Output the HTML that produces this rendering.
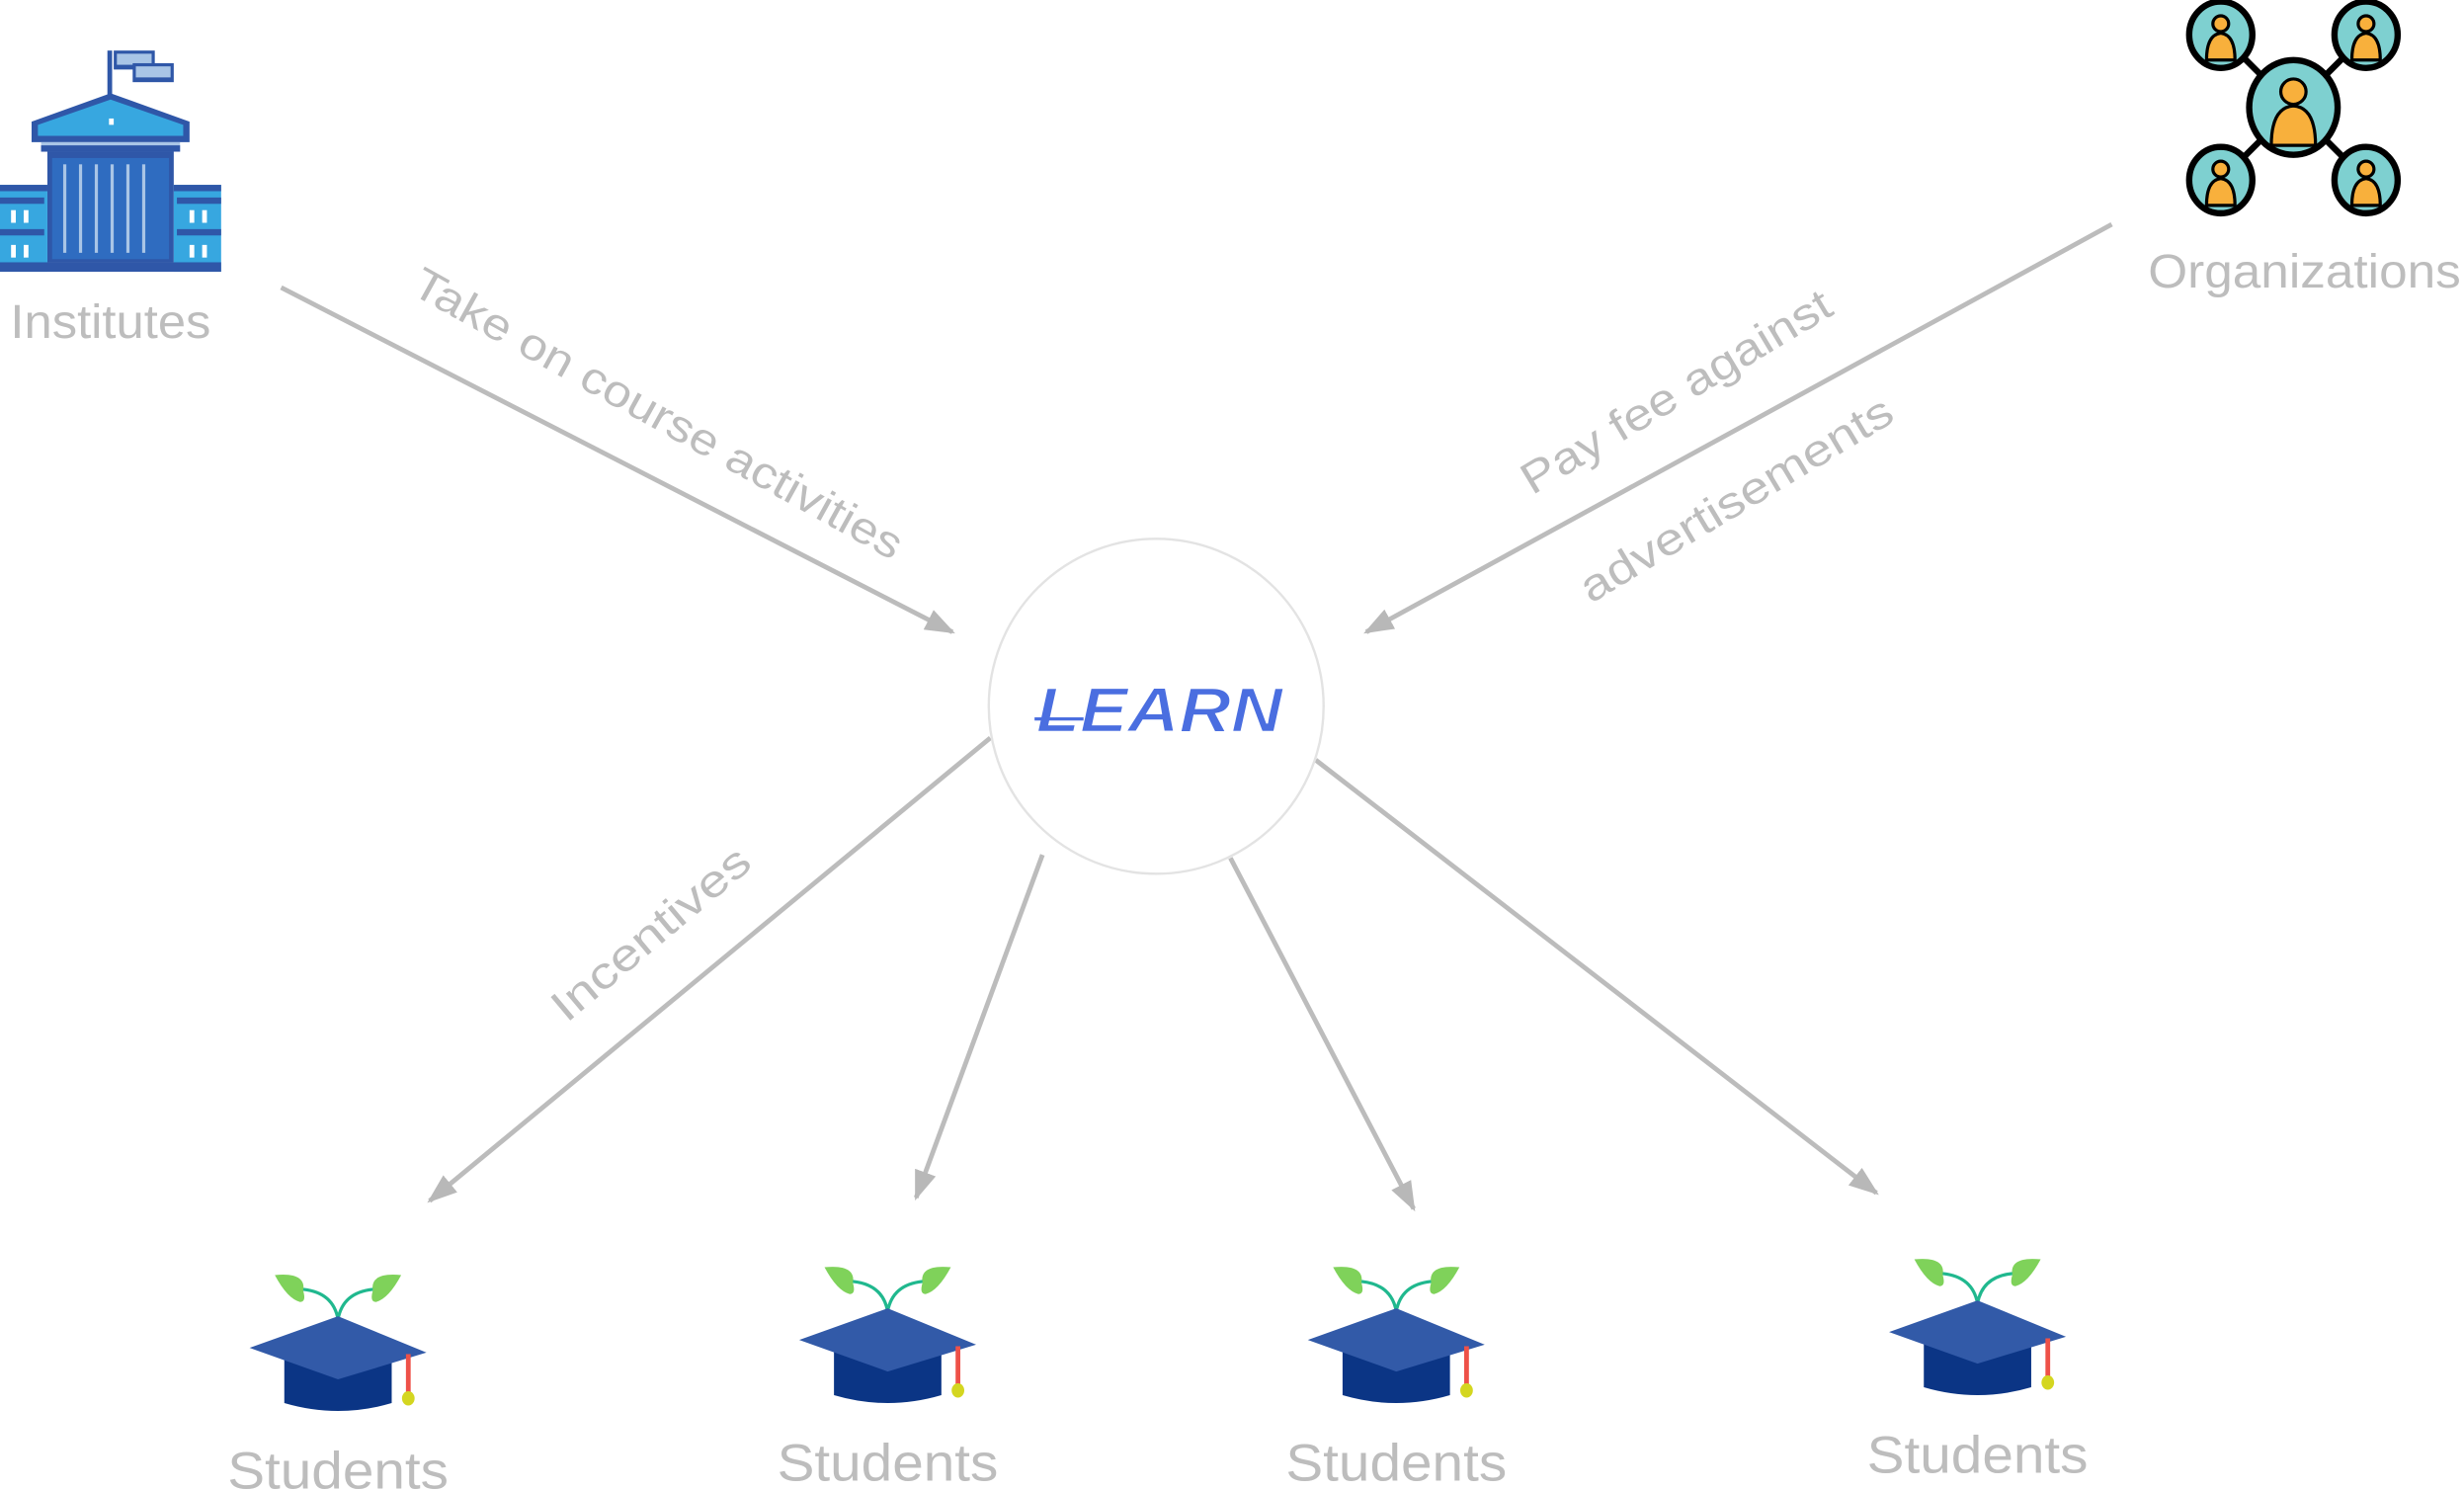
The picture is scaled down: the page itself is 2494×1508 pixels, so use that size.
<!DOCTYPE html>
<html><head><meta charset="utf-8"><style>
html,body{margin:0;padding:0;background:#fff;}
svg{display:block;}
text{font-family:"Liberation Sans",sans-serif;fill:#bdbdbd;}
</style></head><body>
<svg width="2494" height="1508" viewBox="0 0 1560 943" preserveAspectRatio="none" xmlns="http://www.w3.org/2000/svg">
<defs>
<marker id="ah" markerWidth="20" markerHeight="14" refX="17" refY="7" orient="auto" markerUnits="userSpaceOnUse" viewBox="0 0 20 14">
<path d="M0,0 L19,7 L0,14 z" fill="#b8b8b8"/>
</marker>
<g id="cap">
<path d="M-22,-33 Q-20,-45 -40,-43 Q-32,-28 -24,-26 Q-20,-26 -22,-33z" fill="#7fd25a"/>
<path d="M22,-33 Q20,-45 40,-43 Q32,-28 24,-26 Q20,-26 22,-33z" fill="#7fd25a"/>
<path d="M-22,-34 Q-3,-32 0,-15 Q3,-32 22,-34" stroke="#20b88e" stroke-width="2" fill="none"/>
<path d="M-34,10 L-34,38 Q0,48 34,38 L34,10z" fill="#0b3585"/>
<path d="M-56,3 L0,-17 L56,6 L0,23z" fill="#325aa8"/>
<rect x="43" y="7" width="3" height="26" fill="#ee5148"/>
<ellipse cx="44.5" cy="35" rx="4" ry="4.5" fill="#d4d620"/>
</g>
</defs>

<g>
<rect x="68" y="32" width="3" height="34" fill="#2f57a8"/>
<rect x="72" y="32" width="26" height="12" fill="#2f57a8"/>
<rect x="74" y="34" width="22" height="7" fill="#a9c5e6"/>
<rect x="84" y="40" width="26" height="12" fill="#2f57a8"/>
<rect x="86" y="42" width="22" height="7" fill="#a9c5e6"/>
<path d="M20,77 L70,59 L120,77 L120,90 L20,90z" fill="#2f57a8"/>
<path d="M24,79 L70,63 L116,79 L116,86 L24,86z" fill="#37a7e0"/>
<rect x="69" y="75" width="3" height="4" fill="#fff"/>
<rect x="26" y="90" width="88" height="6" fill="#a9c5e6"/>
<rect x="26" y="92" width="88" height="4" fill="#2f57a8"/>
<rect x="30" y="96" width="80" height="70" fill="#2f57a8"/>
<rect x="33" y="100" width="74" height="64" fill="#2f6cc0"/>
<g fill="#a9c5e6"><rect x="40" y="104" width="2" height="56"/><rect x="50" y="104" width="2" height="56"/><rect x="60" y="104" width="2" height="56"/><rect x="70" y="104" width="2" height="56"/><rect x="80" y="104" width="2" height="56"/><rect x="90" y="104" width="2" height="56"/></g>
<rect x="0" y="117" width="30" height="55" fill="#37a7e0"/>
<rect x="110" y="117" width="30" height="55" fill="#37a7e0"/>
<g fill="#2f57a8"><rect x="0" y="117" width="30" height="4"/><rect x="0" y="125" width="28" height="4"/><rect x="0" y="145" width="28" height="4"/><rect x="110" y="117" width="30" height="4"/><rect x="112" y="125" width="28" height="4"/><rect x="112" y="145" width="28" height="4"/><rect x="0" y="166" width="140" height="6"/></g>
<g fill="#fff"><rect x="7" y="133" width="3" height="8"/><rect x="15" y="133" width="3" height="8"/><rect x="7" y="155" width="3" height="8"/><rect x="15" y="155" width="3" height="8"/><rect x="120" y="133" width="3" height="8"/><rect x="128" y="133" width="3" height="8"/><rect x="120" y="155" width="3" height="8"/><rect x="128" y="155" width="3" height="8"/></g>
</g>
<text x="70" y="214" font-size="30" text-anchor="middle" textLength="127" lengthAdjust="spacingAndGlyphs">Institutes</text>

<g transform="translate(-6,0)">
<g stroke="#000" stroke-width="4">
<line x1="1412" y1="22" x2="1458" y2="68"/><line x1="1504" y1="22" x2="1458" y2="68"/>
<line x1="1412" y1="114" x2="1458" y2="68"/><line x1="1504" y1="114" x2="1458" y2="68"/>
<g fill="#7ed0d0">
<ellipse cx="1458" cy="68" rx="28" ry="30"/>
<ellipse cx="1412" cy="22" rx="20" ry="21"/><ellipse cx="1504" cy="22" rx="20" ry="21"/>
<ellipse cx="1412" cy="114" rx="20" ry="21"/><ellipse cx="1504" cy="114" rx="20" ry="21"/>
</g>
</g>
<g fill="#f8b03c" stroke="#000" stroke-width="2">
<circle cx="1458" cy="58" r="8"/><path d="M1444,92 Q1444,68 1458,67 Q1472,68 1472,92z"/>
<circle cx="1412" cy="15" r="5"/><path d="M1403,38 Q1403,22 1412,21 Q1421,22 1421,38z"/>
<circle cx="1504" cy="15" r="5"/><path d="M1495,38 Q1495,22 1504,21 Q1513,22 1513,38z"/>
<circle cx="1412" cy="107" r="5"/><path d="M1403,130 Q1403,114 1412,113 Q1421,114 1421,130z"/>
<circle cx="1504" cy="107" r="5"/><path d="M1495,130 Q1495,114 1504,113 Q1513,114 1513,130z"/>
</g>
</g>
<text x="1459" y="182" font-size="30" text-anchor="middle" textLength="198" lengthAdjust="spacingAndGlyphs">Organizations</text>

<g stroke="#bcbcbc" stroke-width="3" fill="none" marker-end="url(#ah)">
<line x1="178" y1="182" x2="603" y2="400"/>
<line x1="1337" y1="142" x2="865" y2="400"/>
<line x1="627" y1="467" x2="272" y2="760"/>
<line x1="660" y1="541" x2="580" y2="758"/>
<line x1="779" y1="543" x2="895" y2="765"/>
<line x1="833" y1="481" x2="1188" y2="755"/>
</g>

<text font-size="28" text-anchor="middle" textLength="350" lengthAdjust="spacingAndGlyphs" transform="translate(412,270) rotate(29)">Take on course activities</text>
<text font-size="28" text-anchor="middle" textLength="224" lengthAdjust="spacingAndGlyphs" transform="translate(1066,256) rotate(-31)">Pay fee against</text>
<text font-size="28" text-anchor="middle" textLength="226" lengthAdjust="spacingAndGlyphs" transform="translate(1104,324) rotate(-31)">advertisements</text>
<text font-size="28" text-anchor="middle" textLength="155" lengthAdjust="spacingAndGlyphs" transform="translate(418,598) rotate(-40)">Incentives</text>

<circle cx="732" cy="447" r="106" fill="#fff" stroke="#e3e3e3" stroke-width="1.5"/>
<text x="734" y="463" font-size="40" font-style="italic" font-weight="bold" textLength="156" lengthAdjust="spacingAndGlyphs" text-anchor="middle" style="fill:#4a6ee0;stroke:#fff;stroke-width:1">LEARN</text>
<line x1="655" y1="455" x2="686" y2="455" stroke="#4a6ee0" stroke-width="2"/>

<use href="#cap" transform="translate(214,850)"/>
<use href="#cap" transform="translate(562,845)"/>
<use href="#cap" transform="translate(884,845)"/>
<use href="#cap" transform="translate(1252,840)"/>
<text x="214" y="942" font-size="33" text-anchor="middle" textLength="140" lengthAdjust="spacingAndGlyphs">Students</text>
<text x="562" y="937" font-size="33" text-anchor="middle" textLength="140" lengthAdjust="spacingAndGlyphs">Students</text>
<text x="884" y="937" font-size="33" text-anchor="middle" textLength="140" lengthAdjust="spacingAndGlyphs">Students</text>
<text x="1252" y="932" font-size="33" text-anchor="middle" textLength="140" lengthAdjust="spacingAndGlyphs">Students</text>
</svg>
</body></html>
